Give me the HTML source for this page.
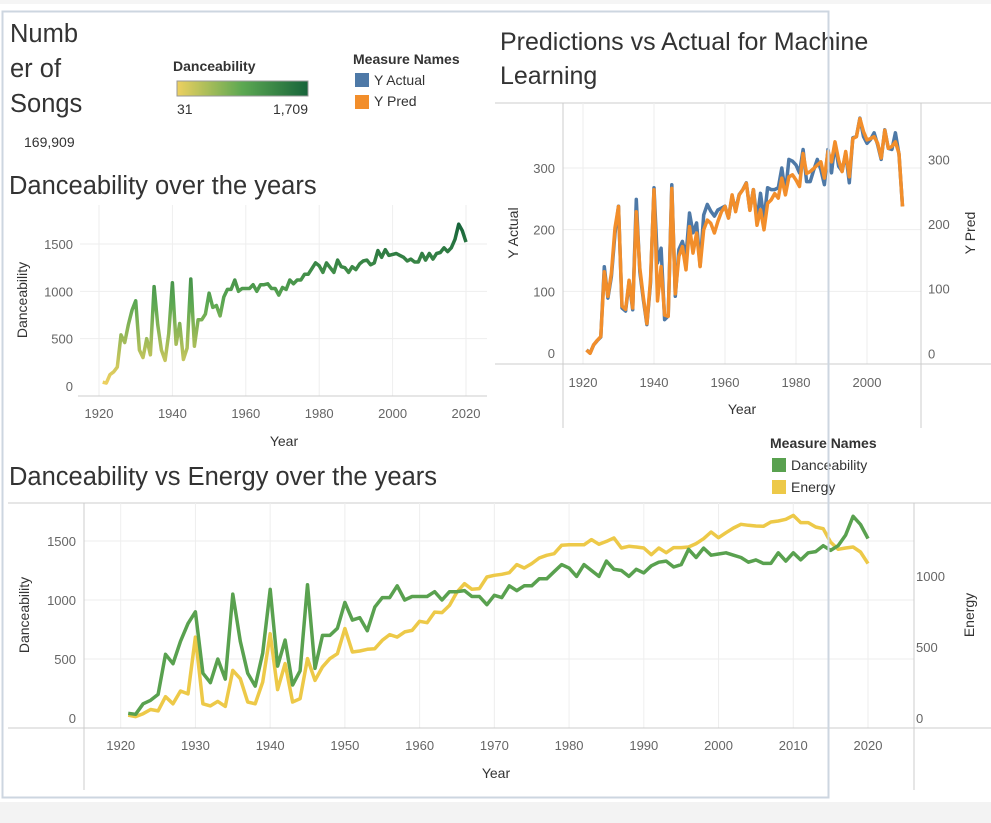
<!DOCTYPE html>
<html><head><meta charset="utf-8"><style>
body{margin:0;width:991px;height:823px;overflow:hidden;background:#fff;font-family:"Liberation Sans",sans-serif;}
svg{position:absolute;left:0;top:0}
text{font-family:"Liberation Sans",sans-serif}
</style></head><body>
<svg id="s" width="991" height="823">
<defs><linearGradient id="dg" x1="0" y1="0" x2="1" y2="0"><stop offset="0" stop-color="#edd060"/><stop offset="0.5" stop-color="#5ca852"/><stop offset="1" stop-color="#17643a"/></linearGradient></defs>
<rect x="0" y="0" width="991" height="4" fill="#f5f5f5"/>
<rect x="0" y="802" width="991" height="21" fill="#f3f3f3"/>
<g fill="#333" font-size="25.5">
<text x="10" y="42">Numb</text><text x="10" y="77">er of</text><text x="10" y="112">Songs</text>
<text x="24" y="147" font-size="14">169,909</text></g>
<g>
<text x="173" y="71" font-size="14" font-weight="bold" fill="#333">Danceability</text>
<rect x="177" y="81" width="131" height="15" fill="url(#dg)" stroke="#999" stroke-width="1"/>
<text x="177" y="114" font-size="14" fill="#333">31</text>
<text x="308" y="114" font-size="14" fill="#333" text-anchor="end">1,709</text></g>
<g font-size="14" fill="#333">
<text x="353" y="64" font-weight="bold">Measure Names</text>
<rect x="355" y="73" width="14" height="14" fill="#4e79a7"/><text x="374" y="85">Y Actual</text>
<rect x="355" y="95" width="14" height="14" fill="#f28e2b"/><text x="374" y="106">Y Pred</text></g>
<text x="9" y="194" font-size="25.5" fill="#333">Danceability over the years</text>
<text x="500" y="50" font-size="25" fill="#333">Predictions vs Actual for Machine</text>
<text x="500" y="84" font-size="25" fill="#333">Learning</text>
<text x="9" y="485" font-size="25.5" fill="#333">Danceability vs Energy over the years</text>
<g font-size="14" fill="#333">
<text x="770" y="448" font-weight="bold">Measure Names</text>
<rect x="772" y="458" width="14" height="14" fill="#59a14f"/><text x="791" y="470">Danceability</text>
<rect x="772" y="480" width="14" height="14" fill="#edc948"/><text x="791" y="492">Energy</text></g>
<g id="c1"></g>
<g id="c2"></g>
<g id="c3"></g>
<rect x="2.5" y="11.5" width="826" height="786" fill="none" stroke="#cdd6e0" stroke-width="2"/>
</svg>
<script>
const years = [];for(let y=1921;y<=2020;y++)years.push(y);
const danceability = [40,31,120,150,200,540,460,650,800,900,380,300,500,330,1050,650,380,270,550,1090,440,660,280,400,1130,420,700,700,760,980,830,850,740,940,1020,1020,1120,1000,1030,1030,1030,1070,1000,1070,1070,1080,1030,1030,960,1040,1020,1120,1080,1120,1120,1180,1180,1240,1300,1270,1200,1300,1250,1200,1330,1260,1250,1200,1260,1230,1290,1320,1330,1280,1300,1430,1360,1440,1380,1390,1400,1380,1360,1320,1340,1310,1310,1400,1330,1400,1340,1400,1410,1460,1420,1460,1550,1709,1640,1520];
const energy = [20,10,30,60,50,150,100,190,170,570,100,85,117,82,335,277,113,100,253,594,200,383,113,136,418,265,360,418,453,630,465,472,484,488,547,587,570,606,617,681,671,746,742,793,887,946,906,911,993,1005,1012,1023,1080,1056,1087,1127,1146,1157,1216,1220,1220,1220,1256,1223,1244,1268,1197,1209,1204,1197,1150,1197,1164,1200,1200,1204,1228,1263,1310,1270,1305,1338,1364,1357,1352,1350,1380,1387,1399,1427,1376,1376,1345,1333,1239,1188,1197,1204,1169,1087];
const mlYears = [];for(let y=1921;y<=2010;y++)mlYears.push(y);
const yActual = [5,0,13,20,26,140,89,124,194,238,73,68,116,70,249,132,86,46,113,268,146,170,54,60,273,92,168,181,157,227,195,211,141,224,241,230,222,232,235,238,219,254,232,257,265,276,232,265,216,259,216,268,265,265,268,300,259,314,311,305,292,330,278,278,297,314,297,273,330,292,340,303,295,324,276,349,351,381,351,340,346,357,338,314,362,332,330,357,322,238];
const yPred = [5,0,13,20,26,126,88,124,194,227,73,68,113,70,219,132,86,46,113,253,81,134,59,57,255,92,150,165,129,196,155,186,134,191,206,201,186,204,219,227,209,245,219,245,253,263,221,253,198,222,191,232,237,247,240,271,245,273,276,268,258,309,278,281,286,291,296,271,312,296,327,299,281,312,273,332,335,363,343,330,332,335,325,302,345,317,320,327,309,227];
const ticksDance1=[0,500,1000,1500], ticksYear20=[1920,1940,1960,1980,2000,2020], ticksML=[0,100,200,300], ticksMLYear=[1920,1940,1960,1980,2000], ticksYear10=[1920,1930,1940,1950,1960,1970,1980,1990,2000,2010,2020], ticksDance3=[0,500,1000,1500], ticksEnergy=[0,500,1000];
const NS='http://www.w3.org/2000/svg';
function mk(p,t,a,txt){const e=document.createElementNS(NS,t);for(const k in a)e.setAttribute(k,a[k]);if(txt!==undefined)e.textContent=txt;p.appendChild(e);return e;}
function lin(d0,d1,r0,r1){return v=>r0+(v-d0)*(r1-r0)/(d1-d0);}
function path(xs,ys,fx,fy){return xs.map((x,i)=>(i?'L':'M')+fx(x).toFixed(1)+','+fy(ys[i]).toFixed(1)).join('');}
// chart 1
{const g=document.getElementById('c1');const x=lin(1920,2020,99,466),y=lin(0,1500,386,244);
ticksYear20.forEach(t=>{const l=mk(g,'line',{x1:x(t),x2:x(t),y1:205,y2:396,stroke:'#eeeeee'});
const tx=mk(g,'text',{x:x(t),y:418,'font-size':13,fill:'#666','text-anchor':'middle'},t);});
ticksDance1.forEach(t=>{if(t>0){const l=mk(g,'line',{x1:80,x2:487,y1:y(t),y2:y(t),stroke:'#eeeeee'});}
const tx=mk(g,'text',{x:73,y:y(t)+5,'font-size':13,fill:'#666','text-anchor':'end'},t);});
mk(g,'line',{x1:78,x2:487,y1:396,y2:396,stroke:'#ccc'});
const yt=mk(g,'text',{x:284,y:446,'font-size':14,fill:'#333','text-anchor':'middle'},'Year');
const ya=mk(g,'text',{transform:'translate(27,300) rotate(-90)','font-size':14,fill:'#333','text-anchor':'middle'},'Danceability');
const gr=mk(g,'linearGradient',{id:'lg1',gradientUnits:'userSpaceOnUse',x1:0,x2:0,y1:y(31),y2:y(1709)});mk(gr,'stop',{offset:0,'stop-color':'#edd060'});mk(gr,'stop',{offset:0.5,'stop-color':'#5ca852'});mk(gr,'stop',{offset:1,'stop-color':'#17643a'});
const p=mk(g,'path',{d:path(years,danceability,x,y),fill:'none',stroke:'url(#lg1)','stroke-width':3.5,'stroke-linejoin':'round'});}
// chart 2
{const g=document.getElementById('c2');const x=lin(1920,2000,583,867),y=lin(0,300,353,168),yr=lin(0,300,353.3,159.3);
mk(g,'line',{x1:495,x2:991,y1:103,y2:103,stroke:'#ccc'});
ticksMLYear.forEach(t=>{const l=mk(g,'line',{x1:x(t),x2:x(t),y1:103,y2:364,stroke:'#eeeeee'});
const tx=mk(g,'text',{x:x(t),y:387,'font-size':13,fill:'#666','text-anchor':'middle'},t);});
ticksML.forEach(t=>{if(t>0){const l=mk(g,'line',{x1:563,x2:921,y1:y(t),y2:y(t),stroke:'#eeeeee'});}
const tx=mk(g,'text',{x:555,y:y(t)+5,'font-size':13,fill:'#666','text-anchor':'end'},t);
const tr=mk(g,'text',{x:928,y:yr(t)+5,'font-size':13,fill:'#666'},t);});
mk(g,'line',{x1:495,x2:991,y1:364,y2:364,stroke:'#ccc'});
mk(g,'line',{x1:563,x2:563,y1:103,y2:428,stroke:'#ccc'});mk(g,'line',{x1:921,x2:921,y1:103,y2:428,stroke:'#ccc'});
const yt=mk(g,'text',{x:742,y:414,'font-size':14,fill:'#333','text-anchor':'middle'},'Year');
const a1=mk(g,'text',{transform:'translate(518,233) rotate(-90)','font-size':14,fill:'#333','text-anchor':'middle'},'Y Actual');
const a2=mk(g,'text',{transform:'translate(975,233) rotate(-90)','font-size':14,fill:'#333','text-anchor':'middle'},'Y Pred');
const p1=mk(g,'path',{d:path(mlYears,yActual,x,y),fill:'none',stroke:'#4e79a7','stroke-width':3.5,'stroke-linejoin':'round'});
const p2=mk(g,'path',{d:path(mlYears,yPred,x,yr),fill:'none',stroke:'#f28e2b','stroke-width':3.5,'stroke-linejoin':'round'});}
// chart 3
{const g=document.getElementById('c3');const x=lin(1920,2020,120.7,868),y=lin(0,1500,718,541),ye=lin(0,1000,718,576);
mk(g,'line',{x1:8,x2:991,y1:503,y2:503,stroke:'#ccc'});
ticksYear10.forEach(t=>{const l=mk(g,'line',{x1:x(t),x2:x(t),y1:503,y2:728,stroke:'#eeeeee'});
const tx=mk(g,'text',{x:x(t),y:750,'font-size':13,fill:'#666','text-anchor':'middle'},t);});
ticksDance3.forEach(t=>{if(t>0){const l=mk(g,'line',{x1:84,x2:914,y1:y(t),y2:y(t),stroke:'#eeeeee'});}
const tx=mk(g,'text',{x:76,y:y(t)+5,'font-size':13,fill:'#666','text-anchor':'end'},t);});
ticksEnergy.forEach(t=>{const tr=mk(g,'text',{x:916,y:ye(t)+5,'font-size':13,fill:'#666'},t);});
mk(g,'line',{x1:8,x2:991,y1:728,y2:728,stroke:'#ccc'});
mk(g,'line',{x1:84,x2:84,y1:503,y2:790,stroke:'#ccc'});mk(g,'line',{x1:914,x2:914,y1:503,y2:790,stroke:'#ccc'});
const yt=mk(g,'text',{x:496,y:778,'font-size':14,fill:'#333','text-anchor':'middle'},'Year');
const a1=mk(g,'text',{transform:'translate(29,615) rotate(-90)','font-size':14,fill:'#333','text-anchor':'middle'},'Danceability');
const a2=mk(g,'text',{transform:'translate(974,615) rotate(-90)','font-size':14,fill:'#333','text-anchor':'middle'},'Energy');
const p2=mk(g,'path',{d:path(years,energy,x,ye),fill:'none',stroke:'#edc948','stroke-width':3.5,'stroke-linejoin':'round'});
const p1=mk(g,'path',{d:path(years,danceability,x,y),fill:'none',stroke:'#59a14f','stroke-width':3.5,'stroke-linejoin':'round'});}
</script>
</body></html>
